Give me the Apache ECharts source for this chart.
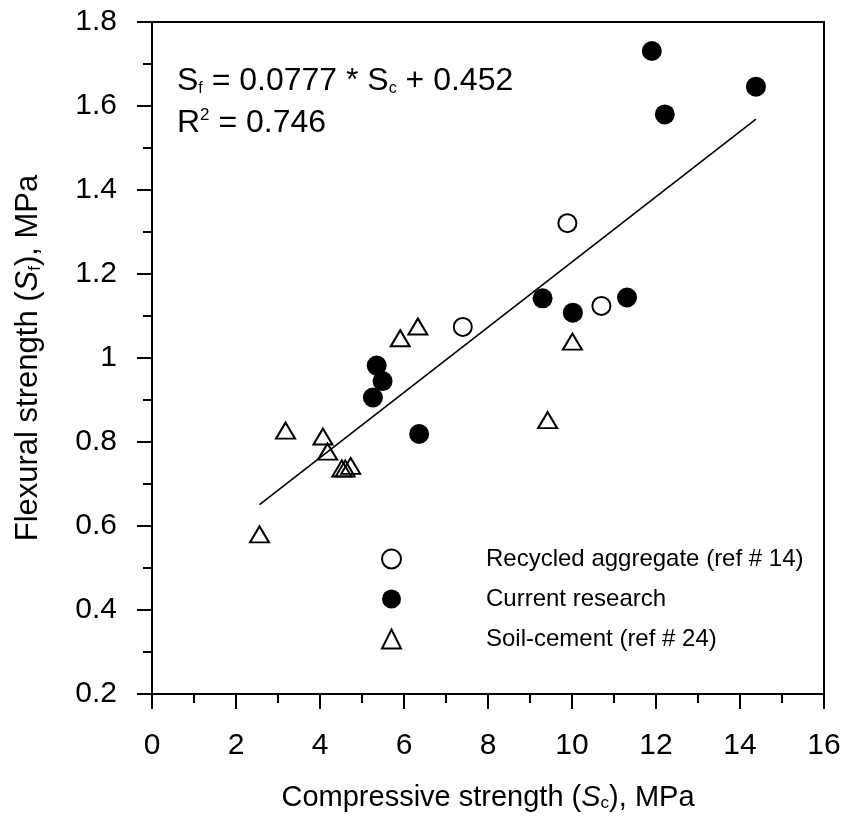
<!DOCTYPE html>
<html>
<head>
<meta charset="utf-8">
<script src="https://cdn.jsdelivr.net/npm/echarts@6/dist/echarts.min.js"></script>
<style>html,body{margin:0;padding:0;background:#fff}#c{width:846px;height:820px}</style>
</head>
<body>
<div id="c"></div>
<script>
// Data
const recycledX = [7.40, 9.89, 10.70];
const recycledY = [1.074, 1.321, 1.124];
const currentX = [5.35, 5.49, 5.26, 6.36, 9.30, 10.02, 11.31, 11.90, 12.21, 14.38];
const currentY = [0.982, 0.945, 0.906, 0.819, 1.142, 1.108, 1.144, 1.731, 1.580, 1.646];
const soilX = [2.56, 3.18, 4.07, 4.18, 4.52, 4.60, 4.73, 5.91, 6.33, 9.42, 10.01];
const soilY = [0.580, 0.827, 0.813, 0.777, 0.737, 0.737, 0.743, 1.047, 1.075, 0.852, 1.039];
const fitX = [2.56, 14.38];
const fitY = [0.651, 1.569];
const seriesNames = ['Recycled aggregate (ref # 14)', 'Current research', 'Soil-cement (ref # 24)'];
const eqLine1 = 'S{sub|f} = 0.0777 * S{sub|c} + 0.452';
const eqLine2 = 'R{sup|2} = 0.746';

const zip = (xs, ys) => xs.map((x, i) => [x, ys[i]]);
const FONT = '"Liberation Sans", Arial, sans-serif';
const chart = echarts.init(document.getElementById('c'), null, {renderer: 'canvas'});

const axisCommon = {
  axisLine: {show: true, onZero: false, lineStyle: {color: '#000', width: 2}},
  axisTick: {show: true, inside: false, length: 15, lineStyle: {color: '#000', width: 2}},
  minorTick: {show: true, splitNumber: 2, length: 9, lineStyle: {color: '#000', width: 2}},
  splitLine: {show: false},
  minorSplitLine: {show: false},
  axisLabel: {color: '#000', fontSize: 30, fontFamily: FONT},
  nameLocation: 'middle',
  nameTextStyle: {color: '#000', fontSize: 29, fontFamily: FONT}
};

chart.setOption({
  animation: false,
  backgroundColor: '#fff',
  grid: {left: 152, top: 22, width: 672, height: 672, show: true, borderColor: '#000', borderWidth: 2, backgroundColor: 'transparent'},
  xAxis: Object.assign({}, axisCommon, {
    type: 'value', min: 0, max: 16, interval: 2,
    axisLabel: Object.assign({}, axisCommon.axisLabel, {margin: 37}),
    name: 'Compressive strength ({i|S}{sub|c}), MPa',
    nameGap: 89,
    nameTextStyle: Object.assign({}, axisCommon.nameTextStyle, {
      rich: {
        i: {fontSize: 29, fontStyle: 'italic', fontFamily: FONT, color: '#000'},
        sub: {fontSize: 17, fontFamily: FONT, color: '#000', verticalAlign: 'bottom', lineHeight: 10}
      }
    })
  }),
  yAxis: Object.assign({}, axisCommon, {
    type: 'value', min: 0.2, max: 1.8, interval: 0.2,
    axisLabel: Object.assign({}, axisCommon.axisLabel, {margin: 35}),
    name: 'Flexural strength ({i|S}{sub|f}), MPa',
    nameGap: 108,
    nameTextStyle: Object.assign({}, axisCommon.nameTextStyle, {
      fontSize: 31,
      rich: {
        i: {fontSize: 31, fontStyle: 'italic', fontFamily: FONT, color: '#000'},
        sub: {fontSize: 17, fontFamily: FONT, color: '#000', verticalAlign: 'bottom', lineHeight: 10}
      }
    })
  }),
  legend: {
    orient: 'vertical', left: 376, top: 542,
    itemWidth: 19, itemHeight: 19, itemGap: 16,
    textStyle: {color: '#000', fontSize: 24, fontFamily: FONT, padding: [0, 0, 0, 80]},
    data: seriesNames
  },
  graphic: [
    {type: 'text', left: 177, top: 65, z: 100, style: {
      text: eqLine1, fill: '#000', fontSize: 32, fontFamily: FONT,
      rich: {sub: {fontSize: 16, fontFamily: FONT, fill: '#000', verticalAlign: 'bottom', lineHeight: 8}}
    }},
    {type: 'text', left: 177, top: 107, z: 100, style: {
      text: eqLine2, fill: '#000', fontSize: 32, fontFamily: FONT,
      rich: {sup: {fontSize: 17, fontFamily: FONT, fill: '#000', verticalAlign: 'top', lineHeight: 17}}
    }}
  ],
  series: [
    {type: 'line', name: 'fit', data: zip(fitX, fitY), symbol: 'none', lineStyle: {color: '#000', width: 1.6}, z: 1, silent: true},
    {type: 'scatter', name: seriesNames[0], data: zip(recycledX, recycledY), symbol: 'circle', symbolSize: 18,
      itemStyle: {color: '#fff', borderColor: '#000', borderWidth: 2, opacity: 1}, z: 3},
    {type: 'scatter', name: seriesNames[1], data: zip(currentX, currentY), symbol: 'circle', symbolSize: 20,
      itemStyle: {color: '#000', borderColor: '#000', borderWidth: 0, opacity: 1}, z: 3},
    {type: 'scatter', name: seriesNames[2], data: zip(soilX, soilY), symbol: 'triangle', symbolSize: [19, 16],
      itemStyle: {color: 'rgba(255,255,255,0)', borderColor: '#000', borderWidth: 2, opacity: 1}, z: 3}
  ]
});
</script>
</body>
</html>
